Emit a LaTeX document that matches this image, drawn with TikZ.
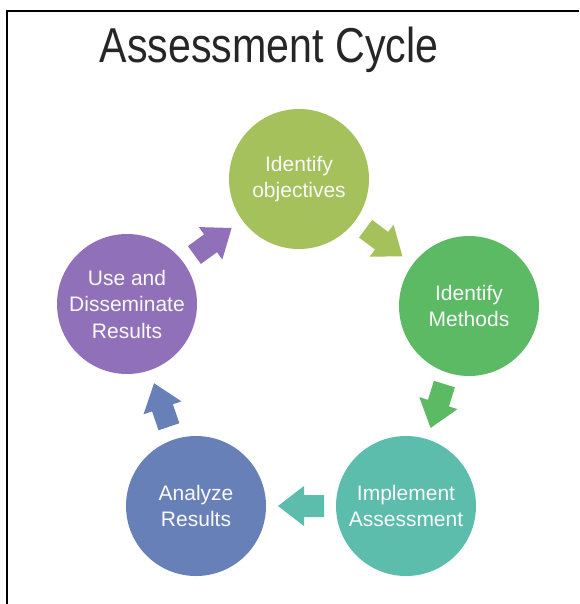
\documentclass[tikz,border=0pt]{standalone}
\usepackage{fontspec}
\setmainfont{Liberation Sans}
\usetikzlibrary{calc}
\definecolor{cobj}{HTML}{A5C15C}
\definecolor{cmeth}{HTML}{5CBA65}
\definecolor{cimpl}{HTML}{5DBDAD}
\definecolor{canal}{HTML}{6880B8}
\definecolor{cuse}{HTML}{9070B8}
\definecolor{ctitle}{HTML}{262626}
\tikzset{
  stage/.style={circle, fill=#1, minimum size=140pt, inner sep=0pt,
    text=white!96!gray, align=center, font=\fontsize{21}{26.5}\selectfont},
  frameline/.style={line width=2.5pt, black},
}
\newcommand\blockarrow[3]{%
  \path let \p1=(#1), \p2=(#2), \n1={atan2(\y2-\y1,\x2-\x1)} in \pgfextra{\xdef\arrang{\n1}};
  \fill[#3, shift={($(#1)!0.5!(#2)$)}, rotate=\arrang]
    (23,0) -- (-3,20) -- (-3,11) -- (-23,11) -- (-23,-11) -- (-3,-11) -- (-3,-20) -- cycle;
}
\begin{document}
\begin{tikzpicture}[x=1pt,y=-1pt]
\useasboundingbox (0,0) rectangle (579,604);
\fill[white] (0,0) rectangle (579,604);
\coordinate (tl) at (7,11);
\coordinate (tr) at (579,11);
\coordinate (bl) at (7,604);
\draw[frameline] (tr) -- (tl) -- (bl);
\node[anchor=base, text=ctitle] (title) at (269,63)
  {\scalebox{0.84}[1]{\fontsize{49}{55}\selectfont Assessment Cycle}};
\node[stage=cobj]  (obj)  at (299,179) {Identify\\objectives};
\node[stage=cmeth] (meth) at (469,306) {Identify\\Methods};
\node[stage=cimpl] (impl) at (406,506) {Implement\\Assessment};
\node[stage=canal] (anal) at (196,506) {Analyze\\Results};
\node[stage=cuse]  (use)  at (127,304) {Use and\\Disseminate\\Results};
\blockarrow{obj}{meth}{cobj}
\blockarrow{meth}{impl}{cmeth}
\blockarrow{impl}{anal}{cimpl}
\blockarrow{anal}{use}{canal}
\blockarrow{use}{obj}{cuse}
\end{tikzpicture}
\end{document}
